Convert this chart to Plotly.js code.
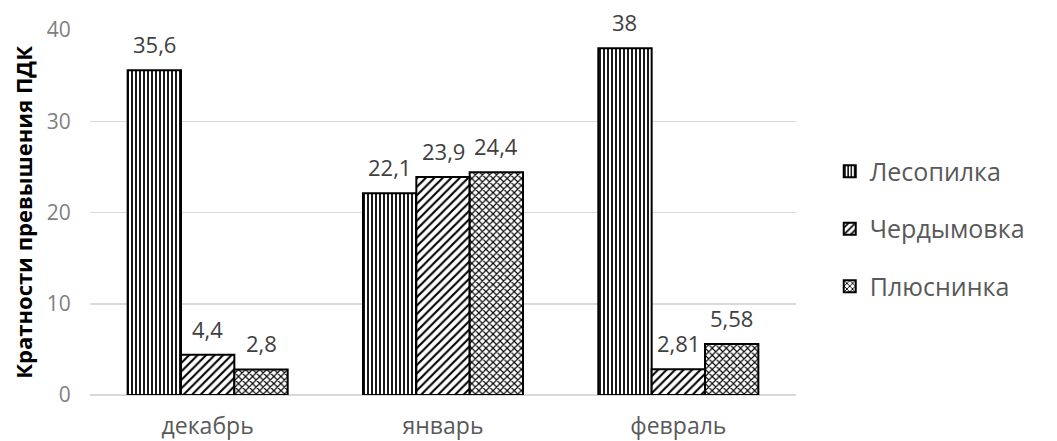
<!DOCTYPE html>
<html><head><meta charset="utf-8">
<script src="https://cdn.plot.ly/plotly-3.0.1.min.js"></script>
<style>html,body{margin:0;padding:0;background:#fff}#chart{width:1057px;height:441px}</style>
</head><body><div id="chart"></div>
<script>
const categories = ["декабрь", "январь", "февраль"];
const seriesNames = ["Лесопилка", "Чердымовка", "Плюснинка"];
const lesopilka = [35.6, 22.1, 38];
const cherdymovka = [4.4, 23.9, 2.81];
const plyusninka = [2.8, 24.4, 5.58];
const yTicks = [0, 10, 20, 30, 40];
const yTitle = "Кратности превышения ПДК";

const patterns = [
  {shape: "|", size: 4, solidity: 0.45},
  {shape: "/", size: 6, solidity: 0.35},
  {shape: "x", size: 5, solidity: 0.4}
];
const fmt = v => String(v).replace('.', ',');
const font = '"Open Sans", "Noto Sans", sans-serif';
const allSeries = [lesopilka, cherdymovka, plyusninka];
const bargap = 0.32;
const barW = (1 - bargap) / allSeries.length;

const traces = allSeries.map((vals, i) => ({
  type: "bar",
  name: seriesNames[i],
  x: categories,
  y: vals,
  legendgroup: "g" + i,
  marker: {
    color: "#ffffff",
    line: {color: "#000000", width: 2},
    pattern: Object.assign({fgcolor: "#000000", bgcolor: "#ffffff", fillmode: "replace"}, patterns[i])
  },
  hoverinfo: "skip"
}));

const annotations = [];
allSeries.forEach((vals, i) => {
  vals.forEach((v, c) => {
    annotations.push({
      x: c + (i - (allSeries.length - 1) / 2) * barW,
      y: v, xref: "x", yref: "y",
      text: fmt(v), showarrow: false,
      xanchor: "center", yanchor: "bottom", yshift: 9,
      font: {family: font, size: 22, color: "#404040"}
    });
  });
});
annotations.push({
  text: yTitle, textangle: -90, showarrow: false,
  xref: "paper", yref: "paper", x: -0.096, y: 0.5,
  xanchor: "center", yanchor: "middle",
  font: {family: font, size: 22, color: "#000000", weight: "bold"}
});

const layout = {
  width: 1057, height: 441,
  margin: {l: 90, r: 261, t: 30, b: 46, autoexpand: false},
  paper_bgcolor: "#ffffff", plot_bgcolor: "#ffffff",
  barmode: "group", bargap: bargap, bargroupgap: 0,
  font: {family: font, color: "#595959"},
  showlegend: true,
  annotations: annotations,
  legend: {
    x: 0.785, xref: "container", xanchor: "left",
    y: 0.455, yanchor: "middle",
    bgcolor: "rgba(0,0,0,0)",
    font: {family: font, size: 25, color: "#595959"},
    tracegroupgap: 22, itemwidth: 30
  },
  xaxis: {
    type: "category",
    tickfont: {family: font, size: 23, color: "#595959"},
    showline: false, ticks: "outside", ticklen: 10, tickcolor: "rgba(0,0,0,0)", showgrid: false
  },
  yaxis: {
    range: [0, 40], tickvals: yTicks, ticktext: yTicks.map(String),
    tickfont: {family: font, size: 21, color: "#7f7f7f"},
    showgrid: true, gridcolor: "#d9d9d9", gridwidth: 1.5,
    zeroline: true, zerolinecolor: "#d9d9d9", zerolinewidth: 1.5,
    ticks: "outside", ticklen: 14, tickcolor: "rgba(0,0,0,0)"
  }
};
Plotly.newPlot("chart", traces, layout, {staticPlot: true, displayModeBar: false});
</script></body></html>
